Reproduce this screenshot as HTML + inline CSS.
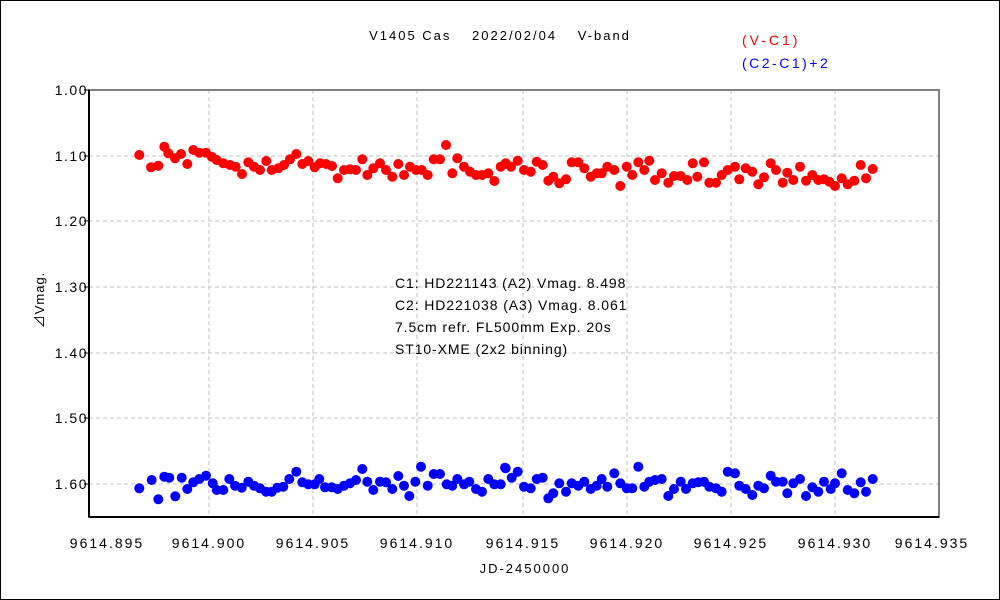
<!DOCTYPE html><html><head><meta charset="utf-8"><style>body{margin:0;background:#fff}svg{display:block}</style></head><body>
<svg id="s" width="1000" height="600" xmlns="http://www.w3.org/2000/svg" font-family="Liberation Sans, Noto Sans CJK JP, sans-serif" font-size="13">
<rect x="0.5" y="0.5" width="999" height="599" fill="#fff" stroke="#000"/>
<g stroke="#c0c0c0" stroke-dasharray="4,3">
<line x1="89" y1="156" x2="939" y2="156"/><line x1="89" y1="221" x2="939" y2="221"/><line x1="89" y1="287" x2="939" y2="287"/><line x1="89" y1="353" x2="939" y2="353"/><line x1="89" y1="418" x2="939" y2="418"/><line x1="89" y1="484" x2="939" y2="484"/>
<line x1="209" y1="90" x2="209" y2="517"/><line x1="313" y1="90" x2="313" y2="517"/><line x1="417" y1="90" x2="417" y2="517"/><line x1="523" y1="90" x2="523" y2="517"/><line x1="627" y1="90" x2="627" y2="517"/><line x1="731" y1="90" x2="731" y2="517"/><line x1="835" y1="90" x2="835" y2="517"/>
</g>
<rect x="89" y="90" width="850" height="427" fill="none" stroke="#808080" stroke-width="2"/>
<line x1="89" y1="90" x2="89" y2="517" stroke="#000" stroke-width="2"/>
<line x1="89" y1="517" x2="939" y2="517" stroke="#000" stroke-width="2"/>
<g stroke="#000"><line x1="84" y1="90" x2="89" y2="90"/><line x1="84" y1="156" x2="89" y2="156"/><line x1="84" y1="221" x2="89" y2="221"/><line x1="84" y1="287" x2="89" y2="287"/><line x1="84" y1="353" x2="89" y2="353"/><line x1="84" y1="418" x2="89" y2="418"/><line x1="84" y1="484" x2="89" y2="484"/></g>
<g text-anchor="end" font-size="14" letter-spacing="1.5"><text x="88" y="95">1.00</text><text x="88" y="161">1.10</text><text x="88" y="226">1.20</text><text x="88" y="292">1.30</text><text x="88" y="358">1.40</text><text x="88" y="423">1.50</text><text x="88" y="489">1.60</text></g>
<g text-anchor="middle" font-size="14" letter-spacing="2"><text x="107" y="548">9614.895</text><text x="209" y="548">9614.900</text><text x="313" y="548">9614.905</text><text x="417" y="548">9614.910</text><text x="523" y="548">9614.915</text><text x="627" y="548">9614.920</text><text x="731" y="548">9614.925</text><text x="835" y="548">9614.930</text><text x="932" y="548">9614.935</text></g>
<text x="525" y="573" text-anchor="middle" letter-spacing="2">JD-2450000</text>
<text x="0" y="0" transform="translate(44,300) rotate(-90)" text-anchor="middle" letter-spacing="1">⊿Vmag.</text>
<text x="500" y="40" text-anchor="middle" letter-spacing="2">V1405 Cas　 2022/02/04　 V-band</text>
<text x="742" y="45" fill="#f00" font-size="14" letter-spacing="3">(V-C1)</text>
<text x="742" y="68" fill="#00f" font-size="14" letter-spacing="2.5">(C2-C1)+2</text>
<g font-size="14" letter-spacing="0.9"><text x="395" y="288">C1: HD221143 (A2) Vmag. 8.498</text><text x="395" y="310">C2: HD221038 (A3) Vmag. 8.061</text><text x="395" y="332">7.5cm refr. FL500mm Exp. 20s</text><text x="395" y="354">ST10-XME (2x2 binning)</text></g>
<g id="r" fill="#f00"></g><g id="b" fill="#00f"></g>
</svg>
<script>
var R1=[178,75,213,112,235,107,253,50,265,70,285,85,303,72,322,102,340,60,358,68,378,68,395,80,410,90,430,100,450,105,467,110,486,132,505,97,522,110,540,120,559,93,575,120,595,115,612,105,630,88,649,72,667,102,685,93,704,112,720,100,738,102,756,108,773,145,792,120,810,118,828,120,847,88,862,135,880,115,900,100,918,120,937,140,955,102,972,135,990,110,1008,120,1025,120,1043,135,1061,88,1080,88,1098,45,1117,130,1132,85,1152,110,1170,125,1188,135,1206,135,1225,130,1243,153,1262,110,1277,100];
var R2=[15,102,33,110,53,92,72,120,92,125,110,95,128,105,145,152,160,140,178,160,198,148,215,97,235,97,253,115,272,140,290,130,305,130,322,110,343,120,361,168,380,110,397,135,415,97,433,120,448,92,465,150,485,130,505,158,522,138,542,138,562,150,578,100,592,140,612,97,628,158,648,158,665,135,683,120,705,110,718,148,737,115,757,125,775,163,792,142,812,100,828,120,848,158,862,128,880,150,900,110,918,152,937,135,955,150,972,148,988,155,1005,168,1025,145,1043,163,1063,152,1082,105,1098,145,1118,117];
var B1=[178,100,215,75,235,133,253,65,268,68,286,124,305,68,322,102,340,82,358,72,378,62,398,85,410,105,430,105,448,72,465,92,485,98,505,80,522,92,540,100,558,110,575,110,592,98,610,95,628,72,649,50,667,82,685,88,704,88,718,72,735,97,755,97,773,102,792,92,810,85,828,75,847,42,862,80,880,105,900,80,918,82,937,102,955,63,972,92,988,123,1006,80,1023,35,1043,92,1061,57,1080,57,1100,88,1117,92,1132,72,1152,88,1168,80,1188,102,1206,110,1225,72,1243,88,1262,88,1277,40];
var B2=[15,38,35,68,53,50,72,95,92,100,110,72,128,68,145,130,160,115,178,85,198,110,215,85,235,92,253,80,272,102,290,92,305,72,322,95,343,55,361,85,380,100,397,100,415,35,433,95,448,80,465,75,485,72,505,123,522,102,542,80,558,102,578,85,595,82,612,80,628,95,648,100,665,110,683,50,705,55,718,92,737,102,757,120,775,92,792,100,812,62,828,80,848,80,862,115,880,85,900,72,918,123,937,97,955,110,972,80,992,102,1005,85,1025,55,1043,105,1063,115,1082,82,1098,110,1118,72];
function add(g,a,ox,oy){var h='';for(var i=0;i<a.length;i+=2)h+='<circle cx="'+(ox+a[i]/3).toFixed(1)+'" cy="'+(oy+a[i+1]/3).toFixed(1)+'" r="5"/>';document.getElementById(g).innerHTML+=h;}
add('r',R1,80,130);add('r',R2,500,130);add('b',B1,80,455);add('b',B2,500,455);
</script>
</body></html>
